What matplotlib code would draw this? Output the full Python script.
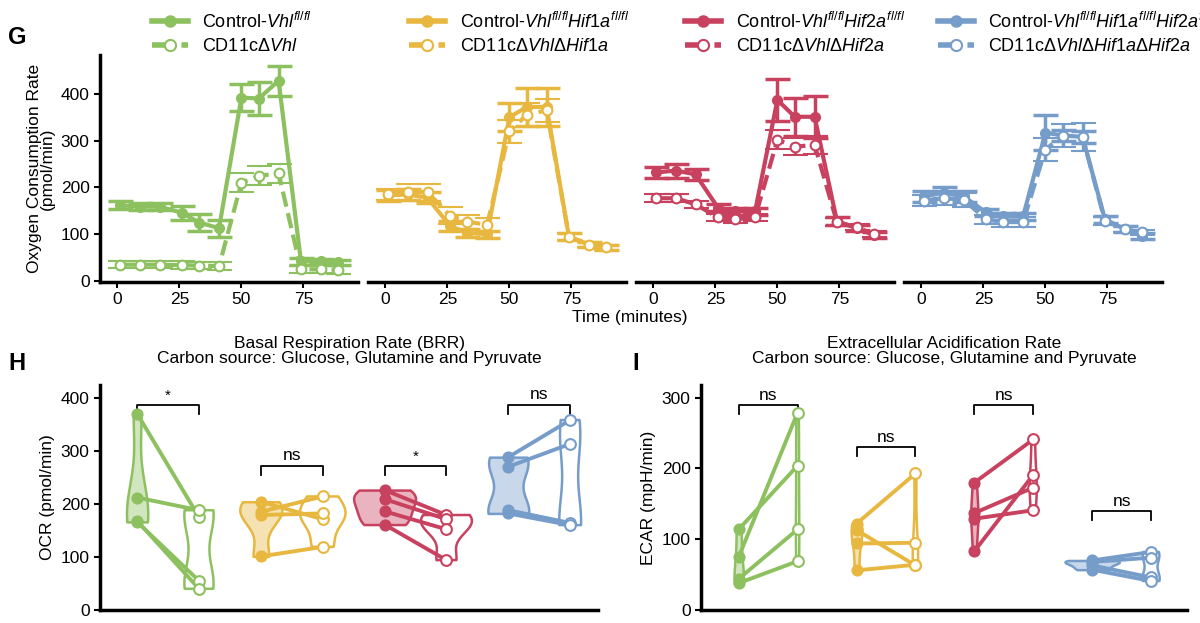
import numpy as np
import matplotlib
matplotlib.use('Agg')
import matplotlib.pyplot as plt
from matplotlib.lines import Line2D

plt.rcParams['font.family'] = ['Liberation Sans', 'DejaVu Sans']
plt.rcParams['mathtext.fontset'] = 'custom'
plt.rcParams['mathtext.rm'] = 'Liberation Sans'
plt.rcParams['mathtext.it'] = 'Liberation Sans:italic'

colors = ['#8dc05f', '#e8b740', '#c8425f', '#769dc9']
ctrl_labels = [r'Control-$\mathit{Vhl}^{\mathit{fl/fl}}$',
               r'Control-$\mathit{Vhl}^{\mathit{fl/fl}}\mathit{Hif1a}^{\mathit{fl/fl}}$',
               r'Control-$\mathit{Vhl}^{\mathit{fl/fl}}\mathit{Hif2a}^{\mathit{fl/fl}}$',
               r'Control-$\mathit{Vhl}^{\mathit{fl/fl}}\mathit{Hif1a}^{\mathit{fl/fl}}\mathit{Hif2a}^{\mathit{fl/fl}}$']
ko_labels = [r'CD11cΔ$\mathit{Vhl}$',
             r'CD11cΔ$\mathit{Vhl}$Δ$\mathit{Hif1a}$',
             r'CD11cΔ$\mathit{Vhl}$Δ$\mathit{Hif2a}$',
             r'CD11cΔ$\mathit{Vhl}$Δ$\mathit{Hif1a}$Δ$\mathit{Hif2a}$']

# OCR time course
time = [1, 9, 17, 26, 33, 41, 50, 57, 65, 74, 82, 89]
ocr_ctrl = [[162, 159, 159, 146, 125, 113, 392, 390, 428, 42, 42, 40],
            [183, 185, 178, 118, 103, 100, 350, 372, 372, 95, 78, 72],
            [232, 236, 228, 157, 149, 149, 387, 351, 351, 128, 113, 98],
            [181, 189, 181, 147, 138, 138, 317, 311, 308, 132, 111, 96]]
ocr_ctrl_err = [[8, 8, 8, 15, 18, 18, 28, 35, 32, 8, 6, 6],
                [12, 12, 12, 10, 8, 8, 30, 40, 40, 8, 6, 6],
                [12, 15, 12, 8, 8, 8, 45, 40, 45, 8, 6, 6],
                [12, 12, 12, 8, 8, 8, 38, 12, 12, 8, 6, 6]]
ocr_ko = [[35, 35, 35, 34, 33, 32, 210, 225, 230, 25, 25, 24],
          [185, 190, 190, 140, 127, 120, 320, 355, 365, 95, 78, 72],
          [177, 177, 164, 136, 132, 136, 302, 287, 291, 126, 115, 100],
          [172, 177, 174, 132, 126, 126, 281, 311, 308, 128, 111, 104]]
ocr_ko_err = [[8, 8, 8, 8, 8, 8, 20, 20, 20, 8, 8, 8],
              [12, 18, 18, 18, 15, 15, 25, 25, 25, 8, 6, 6],
              [8, 8, 8, 8, 8, 8, 20, 18, 20, 8, 6, 6],
              [12, 15, 15, 10, 10, 10, 25, 25, 30, 8, 6, 6]]

# Basal respiration (paired)
brr_ctrl = [[370, 212, 166, 168], [204, 185, 179, 101], [226, 209, 186, 161], [288, 270, 188, 182]]
brr_ko = [[175, 188, 55, 40], [171, 214, 182, 119], [179, 171, 152, 94], [358, 313, 164, 160]]
brr_sig = ['*', 'ns', '*', 'ns']
brr_sig_y = [387, 272, 272, 387]

# ECAR (paired)
ecar_ctrl = [[114, 75, 44, 38], [122, 94, 113, 56], [180, 137, 129, 83], [70, 68, 63, 57]]
ecar_ko = [[204, 279, 114, 69], [193, 95, 63, 64], [241, 173, 141, 191], [82, 74, 46, 41]]
ecar_sig = ['ns', 'ns', 'ns', 'ns']
ecar_sig_y = [290, 230, 290, 140]

fig = plt.figure(figsize=(12, 6.23), dpi=100)
W, H = 1200, 623
FS = 12.5


def ax_px(l, t, r, b):
    return fig.add_axes([l / W, 1 - b / H, (r - l) / W, (b - t) / H])


lefts = [100, 368, 636, 904]
leg_off = [0.2, 0.16, 0.19, 0.13]
for i in range(4):
    ax = ax_px(lefts[i], 55, lefts[i] + 258, 282)
    c = colors[i]
    ax.errorbar(time, ocr_ctrl[i], yerr=ocr_ctrl_err[i], color=c, lw=3,
                marker='o', ms=7, capsize=9, capthick=2.5, elinewidth=2.5, zorder=3)
    e2 = ax.errorbar(time, ocr_ko[i], yerr=ocr_ko_err[i], color=c, lw=3, ls='--',
                     marker='o', ms=7, mfc='white', mec=c, mew=1.5, capsize=9,
                     capthick=2.5, elinewidth=2.5, zorder=4)
    for lc in e2[2]:
        lc.set_linestyle('--')
    ax.set_xlim(-7, 97)
    ax.set_ylim(-2, 483)
    ax.set_xticks([0, 25, 50, 75])
    for s in ['top', 'right']:
        ax.spines[s].set_visible(False)
    ax.spines['bottom'].set_linewidth(2.5)
    ax.spines['left'].set_linewidth(2.5)
    ax.tick_params(labelsize=FS, width=1.5, length=4)
    if i == 0:
        ax.set_yticks([0, 100, 200, 300, 400])
        ax.set_ylabel('Oxygen Consumption Rate\n(pmol/min)', fontsize=FS, linespacing=0.8)
    else:
        ax.spines['left'].set_visible(False)
        ax.set_yticks([])
    handles = [Line2D([], [], color=c, lw=4, marker='o', ms=8),
               Line2D([], [], color=c, lw=4, ls='--', marker='o', ms=8, mfc='white', mec=c, mew=1.5)]
    ax.legend(handles, [ctrl_labels[i], ko_labels[i]], loc='lower left',
              bbox_to_anchor=(leg_off[i], 1.0), frameon=False,
              fontsize=13, handlelength=2.0, labelspacing=0.35, borderpad=0, borderaxespad=0)

fig.text(630 / W, 1 - 322 / H, 'Time (minutes)', ha='center', fontsize=FS)
fig.text(8 / W, 1 - 44 / H, 'G', fontsize=17, fontweight='bold')
fig.text(8 / W, 1 - 370 / H, 'H', fontsize=17, fontweight='bold')
fig.text(632 / W, 1 - 370 / H, 'I', fontsize=17, fontweight='bold')


def paired(ax, ctrl, ko, k, sig, sig_y, ymax):
    for g in range(4):
        c = colors[g]
        x0, x1 = 2 * g, 2 * g + 1
        for j, (data, x) in enumerate([(ctrl[g], x0), (ko[g], x1)]):
            rng = max(data) - min(data)
            w = min(k / rng, 1.0)
            vp = ax.violinplot(data, positions=[x], widths=w, showextrema=False, bw_method=0.6)
            body = vp['bodies'][0]
            body.set_alpha(None)
            body.set_linewidth(1.8)
            if j == 0:
                body.set_facecolor(matplotlib.colors.to_rgba(c, 0.4))
            else:
                body.set_facecolor('none')
            body.set_edgecolor(matplotlib.colors.to_rgba(c, 1.0))
        for a, b in zip(ctrl[g], ko[g]):
            ax.plot([x0, x1], [a, b], color=c, lw=2.8, zorder=3)
        ax.scatter([x0] * 4, ctrl[g], s=60, color=c, zorder=4)
        ax.scatter([x1] * 4, ko[g], s=60, facecolor='white', edgecolor=c, lw=1.5, zorder=4)
        d = ymax * 0.04
        ax.plot([x0, x0, x1, x1], [sig_y[g] - d, sig_y[g], sig_y[g], sig_y[g] - d], color='black', lw=1.3)
        ax.text((x0 + x1) / 2, sig_y[g] + ymax * 0.01, sig[g], ha='center', va='bottom',
                fontsize=FS if sig[g] == 'ns' else 11)
    for s in ['top', 'right']:
        ax.spines[s].set_visible(False)
    ax.spines['bottom'].set_linewidth(2.5)
    ax.spines['left'].set_linewidth(2.5)
    ax.set_xticks([])
    ax.tick_params(labelsize=FS, width=1.5, length=4)


axh = ax_px(100, 385, 598, 610)
paired(axh, brr_ctrl, brr_ko, 70, brr_sig, brr_sig_y, 424)
axh.set_xlim(-0.6, 7.45)
axh.set_ylim(0, 424)
axh.set_yticks([0, 100, 200, 300, 400])
axh.set_ylabel('OCR (pmol/min)', fontsize=FS)
axh.set_title('Basal Respiration Rate (BRR)\nCarbon source: Glucose, Glutamine and Pyruvate',
              fontsize=FS, pad=16, linespacing=1.0)

axi = ax_px(701, 385, 1187, 610)
paired(axi, ecar_ctrl, ecar_ko, 12, ecar_sig, ecar_sig_y, 318)
axi.set_xlim(-0.64, 7.61)
axi.set_ylim(0, 318)
axi.set_yticks([0, 100, 200, 300])
axi.set_ylabel('ECAR (mpH/min)', fontsize=FS)
axi.set_title('Extracellular Acidification Rate\nCarbon source: Glucose, Glutamine and Pyruvate',
              fontsize=FS, pad=16, linespacing=1.0)

fig.savefig('out.png', dpi=100)
